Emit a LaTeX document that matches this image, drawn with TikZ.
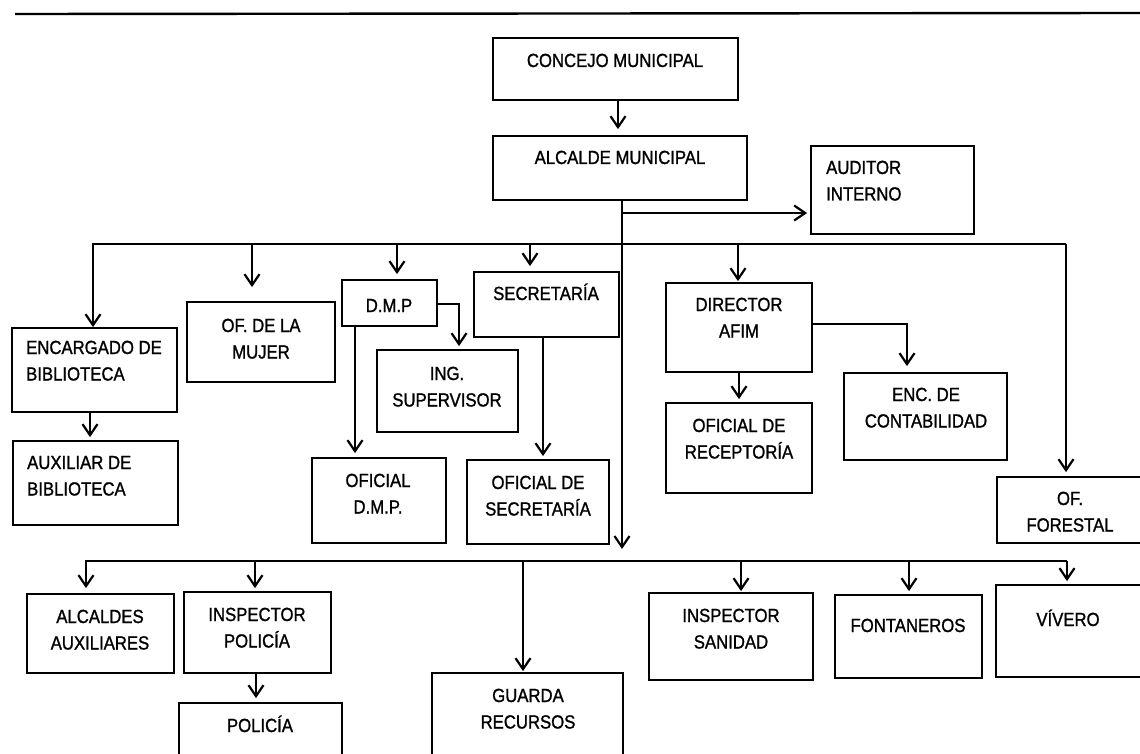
\documentclass[tikz,border=0pt]{standalone}
\usepackage{fontspec}
\setmainfont{Liberation Sans}[FakeStretch=0.88,FakeBold=1.2]
\usetikzlibrary{arrows.meta,fit}
\newcommand\lblfont{\fontsize{19}{26.5}\selectfont}
\newcommand\twoc[2]{\begin{tabular}[t]{@{}c@{}}#1\\#2\end{tabular}}
\newcommand\twol[2]{\begin{tabular}[t]{@{}l@{}}#1\\#2\end{tabular}}
\tikzset{
  box/.style={draw, line width=1.8pt, inner sep=0pt},
  lbl/.style={inner sep=0pt, font=\lblfont, anchor=base},
  lbll/.style={inner sep=0pt, font=\lblfont, anchor=base west},
  conn/.style={line width=2.2pt},
  arr/.style={conn, -{Straight Barb[length=11pt,width=15pt]}}
}
\begin{document}
\begin{tikzpicture}[x=1pt,y=-1pt]
\useasboundingbox (0,0) rectangle (1140,754);
\draw[line width=2.4pt] (15,14) -- (1140,13);

% boxes
\node[box, fit={(493,38) (738,100)}] (concejo) {};
\node[box, fit={(493,136) (747,200)}] (alcalde) {};
\node[box, fit={(811,146) (974,234)}] (auditor) {};
\node[box, fit={(12,328) (177,412)}] (encargado) {};
\node[box, fit={(13,441) (178,525)}] (auxiliar) {};
\node[box, fit={(187,302) (335,382)}] (mujer) {};
\node[box, fit={(342,280) (437,326)}] (dmp) {};
\node[box, fit={(377,350) (518,432)}] (ing) {};
\node[box, fit={(312,458) (446,543)}] (ofdmp) {};
\node[box, fit={(474,272) (619,337)}] (secretaria) {};
\node[box, fit={(467,460) (609,544)}] (ofsec) {};
\node[box, fit={(666,283) (812,372)}] (afim) {};
\node[box, fit={(666,403) (812,493)}] (recep) {};
\node[box, fit={(844,373) (1007,460)}] (enc) {};
\node[box, fit={(997,477) (1150,543)}] (forestal) {};
\node[box, fit={(27,594) (174,673)}] (alcaldes) {};
\node[box, fit={(184,592) (331,673)}] (inspector) {};
\node[box, fit={(179,703) (342,770)}] (policia) {};
\node[box, fit={(432,673) (623,770)}] (guarda) {};
\node[box, fit={(649,593) (813,680)}] (sanidad) {};
\node[box, fit={(835,595) (982,678)}] (fontaneros) {};
\node[box, fit={(996,585) (1150,677)}] (vivero) {};

% labels
\node[lbl] (tconcejo) at (615,67) {CONCEJO MUNICIPAL};
\node[lbl] (talcalde) at (620,164) {ALCALDE MUNICIPAL};
\node[lbll] (tauditor) at (826,174) {\twol{AUDITOR}{INTERNO}};
\node[lbll] (tencargado) at (26,354) {\twol{ENCARGADO DE}{BIBLIOTECA}};
\node[lbll] (tauxiliar) at (27,469) {\twol{AUXILIAR DE}{BIBLIOTECA}};
\node[lbl] (tmujer) at (261,332) {\twoc{OF. DE LA}{MUJER}};
\node[lbl] (tdmp) at (389,312) {D.M.P};
\node[lbl] (ting) at (447,380) {\twoc{ING.}{SUPERVISOR}};
\node[lbl] (tofdmp) at (378,487) {\twoc{OFICIAL}{D.M.P.}};
\node[lbl] (tsecretaria) at (546,300) {SECRETARÍA};
\node[lbl] (tofsec) at (538,489) {\twoc{OFICIAL DE}{SECRETARÍA}};
\node[lbl] (tafim) at (739,311) {\twoc{DIRECTOR}{AFIM}};
\node[lbl] (trecep) at (739,432) {\twoc{OFICIAL DE}{RECEPTORÍA}};
\node[lbl] (tenc) at (926,401) {\twoc{ENC. DE}{CONTABILIDAD}};
\node[lbl] (tforestal) at (1070,505) {\twoc{OF.}{FORESTAL}};
\node[lbl] (talcaldes) at (100,623) {\twoc{ALCALDES}{AUXILIARES}};
\node[lbl] (tinspector) at (257,621) {\twoc{INSPECTOR}{POLICÍA}};
\node[lbl] (tpolicia) at (260,732) {POLICÍA};
\node[lbl] (tguarda) at (528,702) {\twoc{GUARDA}{RECURSOS}};
\node[lbl] (tsanidad) at (731,622) {\twoc{INSPECTOR}{SANIDAD}};
\node[lbl] (tfontaneros) at (908,632) {FONTANEROS};
\node[lbl] (tvivero) at (1068,626) {VÍVERO};

% junction coordinates
\coordinate (trunk) at (622,200);
\coordinate (tAud) at (622,213);
\coordinate (tEnd) at (622,549);
\coordinate (ubL) at (93,244);
\coordinate (ubR) at (1066,244);
\coordinate (uMujer) at (252,244);
\coordinate (uDmp) at (397,244);
\coordinate (uSec) at (530,244);
\coordinate (uAfim) at (738,244);
\coordinate (kDmp) at (459,304);
\coordinate (kDmp2) at (355,326);
\coordinate (kSec) at (543,337);
\coordinate (kAfim) at (907,324);
\coordinate (kEnc) at (90,412);
\coordinate (lbL) at (86,561);
\coordinate (lbR) at (1067,561);
\coordinate (lInsp) at (255,561);
\coordinate (lGuarda) at (523,561);
\coordinate (lSan) at (741,561);
\coordinate (lFont) at (909,561);
\coordinate (kInsp) at (256,673);

% connectors
\draw[arr, shorten >=6pt] (concejo.south -| 618,0) -- (alcalde.north -| 618,0);
\draw[arr] (alcalde.south -| trunk) -- (tEnd);
\draw[arr, shorten >=3pt] (tAud) -- (tAud -| auditor.west);
\draw[arr] (ubR) -- (ubL) -- (ubL |- encargado.north);
\draw[arr, shorten >=4pt] (ubR) -- (ubR |- forestal.north);
\draw[arr, shorten >=14pt] (uMujer) -- (uMujer |- mujer.north);
\draw[arr, shorten >=5pt] (uDmp) -- (uDmp |- dmp.north);
\draw[arr, shorten >=5pt] (uSec) -- (uSec |- secretaria.north);
\draw[arr, shorten >=1pt] (uAfim) -- (uAfim |- afim.north);
\draw[arr, shorten >=3pt] (dmp.east |- kDmp) -- (kDmp) -- (kDmp |- ing.north);
\draw[arr, shorten >=4pt] (kDmp2) -- (kDmp2 |- ofdmp.north);
\draw[arr, shorten >=3pt] (kSec) -- (kSec |- ofsec.north);
\draw[arr, shorten >=6pt] (afim.east |- kAfim) -- (kAfim) -- (kAfim |- enc.north);
\draw[arr, shorten >=3pt] (afim.south) -- (recep.north);
\draw[arr, shorten >=3pt] (kEnc) -- (kEnc |- auxiliar.north);
\draw[arr, shorten >=4pt] (kInsp) -- (kInsp |- policia.north);
\draw[arr, shorten >=5pt] (lbR) -- (lbL) -- (lbL |- alcaldes.north);
\draw[arr, shorten >=3pt] (lbR) -- (lbR |- vivero.north);
\draw[arr, shorten >=3pt] (lInsp) -- (lInsp |- inspector.north);
\draw[arr, shorten >=1pt] (lGuarda) -- (lGuarda |- guarda.north);
\draw[arr, shorten >=1pt] (lSan) -- (lSan |- sanidad.north);
\draw[arr, shorten >=3pt] (lFont) -- (lFont |- fontaneros.north);
\end{tikzpicture}
\end{document}
